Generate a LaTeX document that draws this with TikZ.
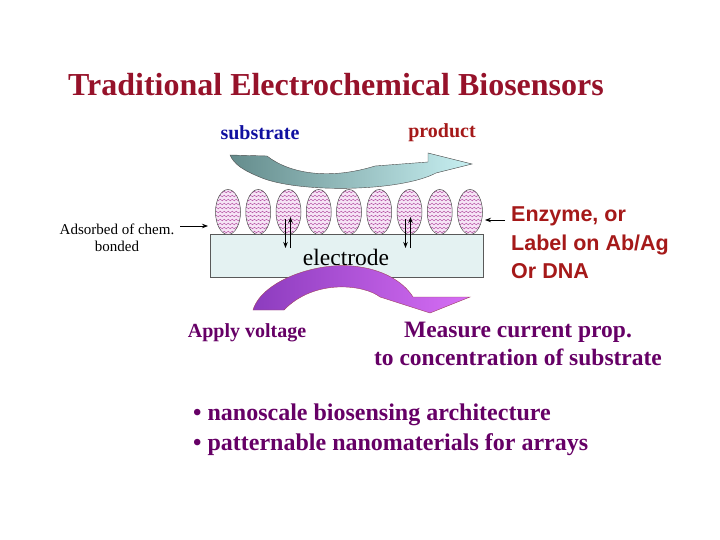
\documentclass[tikz,border=0pt]{standalone}
\usepackage{fontspec}
\setmainfont{Liberation Serif}
\newfontfamily\arial{Liberation Sans}
\usetikzlibrary{decorations.pathmorphing,arrows.meta}
\definecolor{titlec}{RGB}{150,18,42}
\definecolor{subc}{RGB}{16,16,160}
\definecolor{prodc}{RGB}{165,25,25}
\definecolor{purp}{RGB}{102,0,102}
\definecolor{ovalc}{RGB}{246,228,246}
\definecolor{wavec}{RGB}{170,60,150}
\begin{document}
\begin{tikzpicture}[x=1pt,y=-1pt,
  lbl/.style={inner sep=0pt,font=\bfseries},
  thinarrow/.style={-{Stealth[length=6pt,width=4.5pt]},line width=1.2pt}]
\useasboundingbox (0,0) rectangle (720,540);
% title and labels
\node[lbl,text=titlec,font=\bfseries\fontsize{32}{36}\selectfont] (title) at (336,85) {Traditional Electrochemical Biosensors};
\node[lbl,text=subc,font=\bfseries\fontsize{20}{24}\selectfont] (sub) at (260,133) {substrate};
\node[lbl,text=prodc,font=\bfseries\fontsize{20}{24}\selectfont] (prod) at (442,133) {product};
% top arrow
\draw[gray!60!black,line width=0.4pt,left color={rgb,255:red,100;green,140;blue,140},right color={rgb,255:red,200;green,240;blue,242}]
 (230,155) -- (267,156) .. controls (290,174) and (330,180) .. (375,166) -- (428,162) -- (428,153) -- (472,164)
 -- (436,173) .. controls (400,192) and (300,193) .. (262,178) .. controls (242,170) and (234,164) .. (230,155) -- cycle;
% electrode
\node[draw=gray!70!black,fill={rgb,255:red,228;green,242;blue,242},minimum width=273pt,minimum height=43pt,inner sep=0pt] (elec) at (346.5,255.5) {};
\node[font=\fontsize{23.5}{28}\selectfont,inner sep=0pt] (etxt) at (346,257) {electrode};
% ovals
\foreach \i in {0,...,8}{
  \pgfmathsetmacro\cx{228+30.25*\i}
  \begin{scope}
    \clip (\cx,212) ellipse [x radius=12.5,y radius=22.5];
    \fill[ovalc] (\cx-13,189) rectangle (\cx+13,235);
    \foreach \yy in {192,196,...,234}{
      \draw[wavec,line width=0.35pt,decorate,decoration={snake,amplitude=0.8pt,segment length=4pt}] (\cx-13,\yy) -- (\cx+13,\yy);
    }
  \end{scope}
  \draw[gray!60!black,line width=0.5pt] (\cx,212) ellipse [x radius=12.5,y radius=22.5];
}
% double arrows
\foreach \xx in {288,408}{
  \draw[thinarrow] (\xx-2.5,219) -- (\xx-2.5,248);
  \draw[thinarrow] (\xx+2.5,248) -- (\xx+2.5,217);
}
% bottom arrow
\draw[gray!50!purple,line width=0.4pt,left color={rgb,255:red,140;green,60;blue,190},right color={rgb,255:red,215;green,110;blue,245}]
 (253,310) .. controls (262,280) and (320,260) .. (360,267) .. controls (387,271) and (405,284) .. (413,297)
 -- (470,297) -- (430,313) -- (380,297) .. controls (365,285) and (315,278) .. (284,310) -- cycle;
% left side label
\node[align=center,font=\fontsize{15}{17}\selectfont,inner sep=0pt] (ads) at (117,238) {Adsorbed of chem.\\bonded};
\coordinate (adsend) at (180,226);
\coordinate (adstip) at (208,226);
\draw[thinarrow,line width=0.8pt] (adsend) -- (adstip);
% right side label
\node[align=left,text=prodc,font=\arial\bfseries\fontsize{21.5}{28.5}\selectfont,inner sep=0pt,anchor=west] (enz) at (511,243) {Enzyme, or\\Label on Ab/Ag\\Or DNA};
\coordinate (enzend) at (505,220);
\coordinate (enztip) at (485,220);
\draw[thinarrow,line width=0.8pt] (enzend) -- (enztip);
% bottom labels
\node[lbl,text=purp,font=\bfseries\fontsize{20}{24}\selectfont] (apply) at (247,333) {Apply voltage};
\node[lbl,text=purp,align=center,font=\bfseries\fontsize{23.5}{28}\selectfont] (meas) at (518,344) {Measure current prop.\\to concentration of substrate};
\node[lbl,text=purp,align=left,anchor=west,font=\bfseries\fontsize{24}{30}\selectfont] (bul) at (193,430) {\textbullet{} nanoscale biosensing architecture\\\textbullet{} patternable nanomaterials for arrays};
\end{tikzpicture}
\end{document}
